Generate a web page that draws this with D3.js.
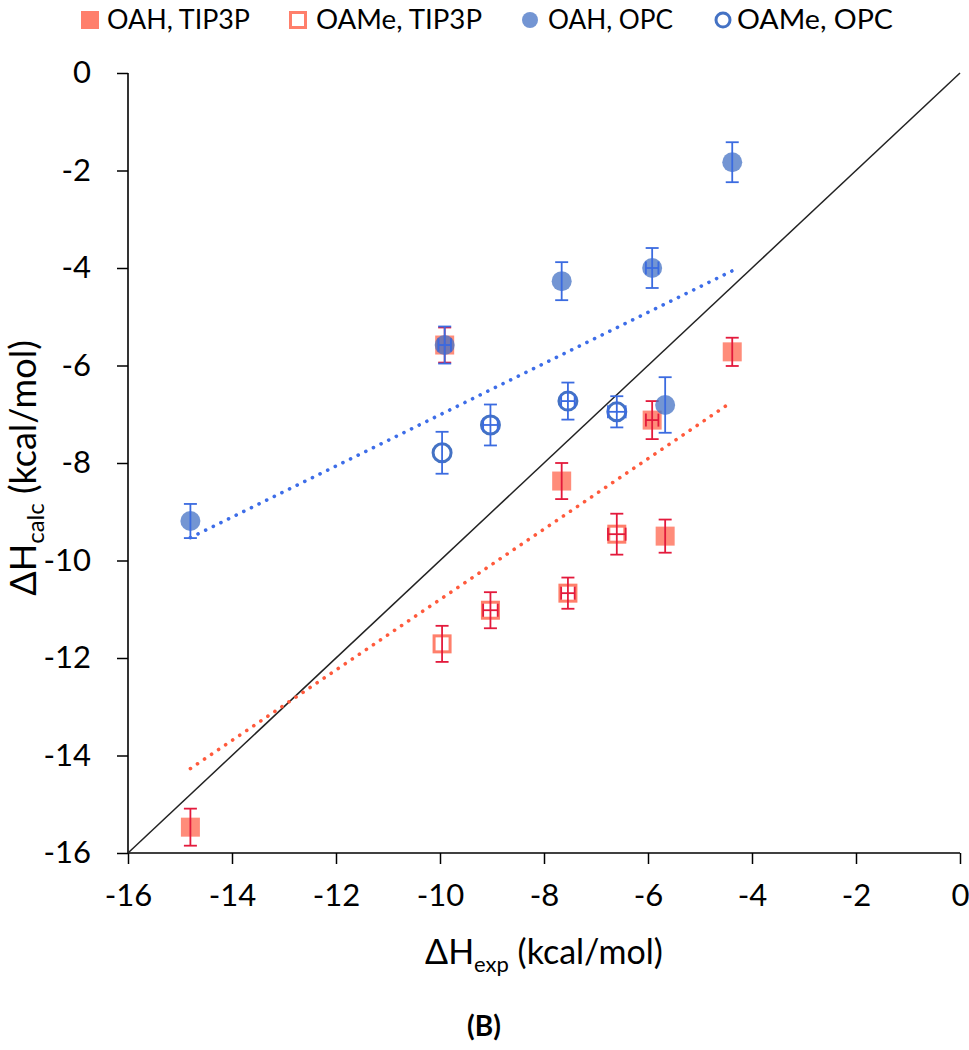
<!DOCTYPE html>
<html>
<head>
<meta charset="utf-8">
<script src="https://cdn.jsdelivr.net/npm/d3@7"></script>
<style>
  html, body { margin: 0; padding: 0; background: #fff; }
  svg { display: block; }
  text { font-family: Lato, "Open Sans", sans-serif; fill: #000; }
</style>
</head>
<body>
<svg id="chart" width="969" height="1050"></svg>
<script>
// ---------------- data ----------------
const seriesNames = ["OAH, TIP3P", "OAMe, TIP3P", "OAH, OPC", "OAMe, OPC"];

const oahExp      = [-14.80, -9.91, -7.66, -5.92, -5.67, -4.38];
const oahExpErr   = [0, 0.12, 0, 0.12, 0, 0];
const oahTip3p    = [-15.47, -5.58, -8.37, -7.12, -9.50, -5.72];
const oahTip3pErr = [0.38, 0.36, 0.37, 0.39, 0.34, 0.29];
const oahOpc      = [-9.19, -5.58, -4.27, -4.00, -6.81, -1.83];
const oahOpcErr   = [0.35, 0.38, 0.39, 0.41, 0.57, 0.41];

const oameExp      = [-9.96, -9.03, -7.54, -6.60];
const oameExpErr   = [0, 0.14, 0.13, 0.17];
const oameTip3p    = [-11.71, -11.02, -10.67, -9.46];
const oameTip3pErr = [0.37, 0.37, 0.32, 0.42];
const oameOpc      = [-7.79, -7.22, -6.73, -6.95];
const oameOpcErr   = [0.43, 0.42, 0.38, 0.32];

const axisDomain = [-16, 0];
const majorTicks = [-16, -14, -12, -10, -8, -6, -4, -2, 0];
const minorStep = 0.4;

// ---------------- setup ----------------
const svg = d3.select("#chart");
const x = d3.scaleLinear().domain(axisDomain).range([128, 960]);
const y = d3.scaleLinear().domain(axisDomain).range([853, 73]);

const RED_FILL = "#FF7F6B", RED_ERR = "#E31A3C", RED_TREND = "#FF5A3C";
const BLUE_FILL = "#4472C4", BLUE_ERR = "#3B6BE0", BLUE_TREND = "#3D6DE8";

function zip(xs, xe, ys, ye) {
  return xs.map((v, i) => ({x: v, xe: xe[i], y: ys[i], ye: ye[i]}));
}
const sOahTip3p  = zip(oahExp, oahExpErr, oahTip3p, oahTip3pErr);
const sOameTip3p = zip(oameExp, oameExpErr, oameTip3p, oameTip3pErr);
const sOahOpc    = zip(oahExp, oahExpErr, oahOpc, oahOpcErr);
const sOameOpc   = zip(oameExp, oameExpErr, oameOpc, oameOpcErr);

const fmt = d => String(d);   // plain hyphen-minus like the original

// ---------------- axes ----------------
const minorVals = d3.range(-16, 0.0001, minorStep).filter(v => Math.abs(v / 2 - Math.round(v / 2)) > 1e-6);

const gx = svg.append("g").attr("transform", `translate(0,${y(-16)})`);
gx.call(d3.axisBottom(x).tickValues(minorVals).tickSize(-9).tickFormat(""));
gx.call(d3.axisBottom(x).tickValues(majorTicks).tickSize(11).tickPadding(20).tickFormat(fmt));
gx.select(".domain").remove();
gx.selectAll("line").attr("stroke", "#000").attr("stroke-width", 1.5);
gx.selectAll("text").style("font-size", "31px").attr("fill", "#000");

const gy = svg.append("g").attr("transform", `translate(${x(-16)},0)`);
gy.call(d3.axisLeft(y).tickValues(minorVals).tickSize(-9).tickFormat(""));
gy.call(d3.axisLeft(y).tickValues(majorTicks).tickSize(11).tickPadding(26).tickFormat(fmt));
gy.select(".domain").remove();
gy.selectAll("line").attr("stroke", "#000").attr("stroke-width", 1.5);
gy.selectAll("text").style("font-size", "31px").attr("fill", "#000");

// axis lines
svg.append("line").attr("x1", x(-16)).attr("x2", x(0)).attr("y1", y(-16)).attr("y2", y(-16))
  .attr("stroke", "#000").attr("stroke-width", 1.6);
svg.append("line").attr("x1", x(-16)).attr("x2", x(-16)).attr("y1", y(-16)).attr("y2", y(0))
  .attr("stroke", "#000").attr("stroke-width", 1.6);

// diagonal y = x
svg.append("line").attr("x1", x(-16)).attr("y1", y(-16)).attr("x2", x(0)).attr("y2", y(0))
  .attr("stroke", "#222").attr("stroke-width", 1.5);

// ---------------- trend lines (least squares) ----------------
function fit(pts) {
  const mx = d3.mean(pts, d => d.x), my = d3.mean(pts, d => d.y);
  const sxy = d3.sum(pts, d => (d.x - mx) * (d.y - my));
  const sxx = d3.sum(pts, d => (d.x - mx) ** 2);
  const m = sxy / sxx, b = my - m * mx;
  const [x0, x1] = d3.extent(pts, d => d.x);
  return [{x: x0, y: m * x0 + b}, {x: x1, y: m * x1 + b}];
}
const line = d3.line().x(d => x(d.x)).y(d => y(d.y));
function trend(pts, color) {
  svg.append("path").datum(fit(pts)).attr("d", line)
    .attr("fill", "none").attr("stroke", color).attr("stroke-width", 3.6)
    .attr("stroke-linecap", "round").attr("stroke-dasharray", "0.1 8.4");
}

// ---------------- error bars ----------------
function errorBars(data, color) {
  const g = svg.append("g").attr("stroke", color).attr("stroke-width", 1.8).attr("fill", "none");
  const cap = 6.5;
  data.forEach(d => {
    const cx = x(d.x), cy = y(d.y);
    const yt = y(d.y + d.ye), yb = y(d.y - d.ye);
    g.append("line").attr("x1", cx).attr("x2", cx).attr("y1", yt).attr("y2", yb);
    g.append("line").attr("x1", cx - cap).attr("x2", cx + cap).attr("y1", yt).attr("y2", yt);
    g.append("line").attr("x1", cx - cap).attr("x2", cx + cap).attr("y1", yb).attr("y2", yb);
    if (d.xe > 0) {
      const xl = x(d.x - d.xe), xr = x(d.x + d.xe);
      g.append("line").attr("x1", xl).attr("x2", xr).attr("y1", cy).attr("y2", cy);
      g.append("line").attr("x1", xl).attr("x2", xl).attr("y1", cy - cap).attr("y2", cy + cap);
      g.append("line").attr("x1", xr).attr("x2", xr).attr("y1", cy - cap).attr("y2", cy + cap);
    }
  });
}

// ---------------- markers ----------------
function filledSquares(data) {
  svg.append("g").selectAll("rect").data(data).join("rect")
    .attr("x", d => x(d.x) - 9.5).attr("y", d => y(d.y) - 9.5)
    .attr("width", 19).attr("height", 19).attr("fill", RED_FILL).attr("fill-opacity", 0.9);
}
function openSquares(data) {
  svg.append("g").selectAll("rect").data(data).join("rect")
    .attr("x", d => x(d.x) - 8).attr("y", d => y(d.y) - 8)
    .attr("width", 16).attr("height", 16).attr("fill", "none")
    .attr("stroke", RED_FILL).attr("stroke-width", 3);
}
function filledCircles(data) {
  svg.append("g").selectAll("circle").data(data).join("circle")
    .attr("cx", d => x(d.x)).attr("cy", d => y(d.y)).attr("r", 10)
    .attr("fill", BLUE_FILL).attr("fill-opacity", 0.75);
}
function openCircles(data) {
  svg.append("g").selectAll("circle").data(data).join("circle")
    .attr("cx", d => x(d.x)).attr("cy", d => y(d.y)).attr("r", 9)
    .attr("fill", "none").attr("stroke", BLUE_FILL).attr("stroke-width", 3);
}

filledSquares(sOahTip3p);  errorBars(sOahTip3p, RED_ERR);
openSquares(sOameTip3p);   errorBars(sOameTip3p, RED_ERR);
filledCircles(sOahOpc);    errorBars(sOahOpc, BLUE_ERR);
openCircles(sOameOpc);     errorBars(sOameOpc, BLUE_ERR);

trend(sOahTip3p.concat(sOameTip3p), RED_TREND);
trend(sOahOpc.concat(sOameOpc), BLUE_TREND);

// ---------------- legend ----------------
const leg = svg.append("g").attr("class", "legend");
const legY = 20;
const legendItems = [
  {name: seriesNames[0], mx: 90,  tx: 107, w: 143},
  {name: seriesNames[1], mx: 298, tx: 316, w: 166},
  {name: seriesNames[2], mx: 530, tx: 548, w: 125},
  {name: seriesNames[3], mx: 723, tx: 737, w: 156}
];
leg.append("rect").attr("x", legendItems[0].mx - 9).attr("y", legY - 9).attr("width", 18).attr("height", 18).attr("fill", RED_FILL);
leg.append("rect").attr("x", legendItems[1].mx - 7.5).attr("y", legY - 7.5).attr("width", 15).attr("height", 15)
  .attr("fill", "none").attr("stroke", RED_FILL).attr("stroke-width", 3);
leg.append("circle").attr("cx", legendItems[2].mx).attr("cy", legY).attr("r", 8).attr("fill", BLUE_FILL).attr("fill-opacity", 0.75);
leg.append("circle").attr("cx", legendItems[3].mx).attr("cy", legY).attr("r", 7).attr("fill", "none")
  .attr("stroke", BLUE_FILL).attr("stroke-width", 3);
legendItems.forEach(it => {
  leg.append("text").attr("x", it.tx).attr("y", legY).attr("dy", "0.36em")
    .style("font-size", "26px").attr("textLength", it.w).attr("lengthAdjust", "spacingAndGlyphs").text(it.name);
});

// ---------------- titles ----------------
const xt = svg.append("text").attr("x", 544).attr("y", 964).attr("text-anchor", "middle")
  .style("font-size", "34px");
xt.append("tspan").text("ΔH");
xt.append("tspan").attr("dy", 8).style("font-size", "22px").text("exp");
xt.append("tspan").attr("dy", -8).text(" (kcal/mol)");

const yt = svg.append("text").attr("transform", "translate(36,468) rotate(-90)").attr("text-anchor", "middle")
  .style("font-size", "36px");
yt.append("tspan").text("ΔH");
yt.append("tspan").attr("dy", 8).style("font-size", "24px").text("calc");
yt.append("tspan").attr("dy", -8).text(" (kcal/mol)");

svg.append("text").attr("x", 484).attr("y", 1036).attr("text-anchor", "middle")
  .style("font-size", "28px").style("font-weight", "bold").text("(B)");
</script>
</body>
</html>
